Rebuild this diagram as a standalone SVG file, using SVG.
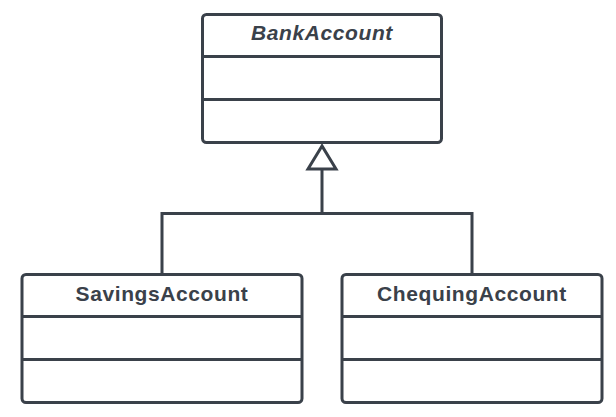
<svg xmlns="http://www.w3.org/2000/svg" width="616" height="417" viewBox="0 0 616 417">
<style>
.box{fill:#ffffff;stroke:#3a414a;stroke-width:3}
.div{stroke:#3a414a;stroke-width:3}
.lbl{font-family:"Liberation Sans",Arial,sans-serif;font-weight:bold;font-size:21px;letter-spacing:0.6px;fill:#3a414a;text-anchor:middle}
.conn{fill:none;stroke:#3a414a;stroke-width:3}
</style>
<rect width="616" height="417" fill="#ffffff"/>
<g id="connectors">
<polyline class="conn" points="162,274 162,213.5 472,213.5 472,274"/>
<line class="conn" x1="322" y1="213.5" x2="322" y2="169"/>
<polygon class="conn" points="322,146 308,169 336,169" stroke-linejoin="miter"/>
</g>
<g id="BankAccount">
<rect class="box" x="202.5" y="14.5" width="239" height="128" rx="4"/>
<line class="div" x1="202.5" y1="56.5" x2="441.5" y2="56.5"/>
<line class="div" x1="202.5" y1="99.5" x2="441.5" y2="99.5"/>
<text class="lbl" x="322" y="40" font-style="italic">BankAccount</text>
</g>
<g id="SavingsAccount">
<rect class="box" x="22" y="274.5" width="280" height="128" rx="4"/>
<line class="div" x1="22" y1="316.5" x2="302" y2="316.5"/>
<line class="div" x1="22" y1="359.5" x2="302" y2="359.5"/>
<text class="lbl" x="162" y="300.5">SavingsAccount</text>
</g>
<g id="ChequingAccount">
<rect class="box" x="342" y="274.5" width="260" height="128" rx="4"/>
<line class="div" x1="342" y1="316.5" x2="602" y2="316.5"/>
<line class="div" x1="342" y1="359.5" x2="602" y2="359.5"/>
<text class="lbl" x="472" y="300.5">ChequingAccount</text>
</g>
</svg>
